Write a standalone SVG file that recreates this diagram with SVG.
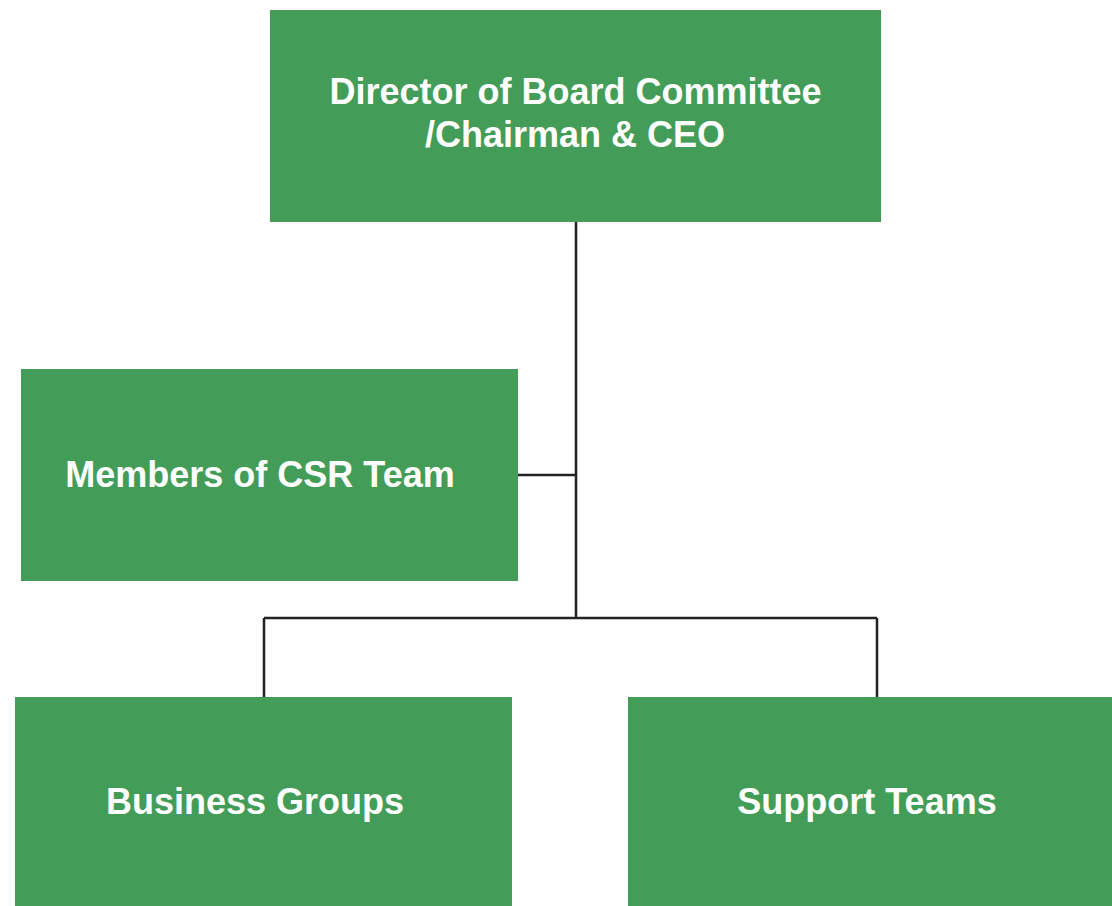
<svg xmlns="http://www.w3.org/2000/svg" width="1112" height="906" viewBox="0 0 1112 906">
<style>
.box{fill:#439d58}
.lbl{fill:#ffffff;font-family:"Liberation Sans",Arial,sans-serif;font-weight:bold;font-size:36px;text-anchor:middle}
.con{stroke:#222222;stroke-width:2.5;fill:none}
</style>
<rect width="1112" height="906" fill="#ffffff"/>
<g id="connectors">
<line class="con" x1="576" y1="222" x2="576" y2="618"/>
<line class="con" x1="518" y1="475" x2="576" y2="475"/>
<line class="con" x1="264" y1="618" x2="877" y2="618"/>
<line class="con" x1="264" y1="618" x2="264" y2="697"/>
<line class="con" x1="877" y1="618" x2="877" y2="697"/>
</g>
<g id="node-director">
<rect class="box" x="270" y="10" width="611" height="212"/>
<text class="lbl" x="575.5" y="104">Director of Board Committee</text>
<text class="lbl" x="575" y="147">/Chairman &amp; CEO</text>
</g>
<g id="node-csr">
<rect class="box" x="21" y="369" width="497" height="212"/>
<text class="lbl" x="260" y="487">Members of CSR Team</text>
</g>
<g id="node-business">
<rect class="box" x="15" y="697" width="497" height="209"/>
<text class="lbl" x="255" y="814">Business Groups</text>
</g>
<g id="node-support">
<rect class="box" x="628" y="697" width="484" height="209"/>
<text class="lbl" x="867" y="814">Support Teams</text>
</g>
</svg>
